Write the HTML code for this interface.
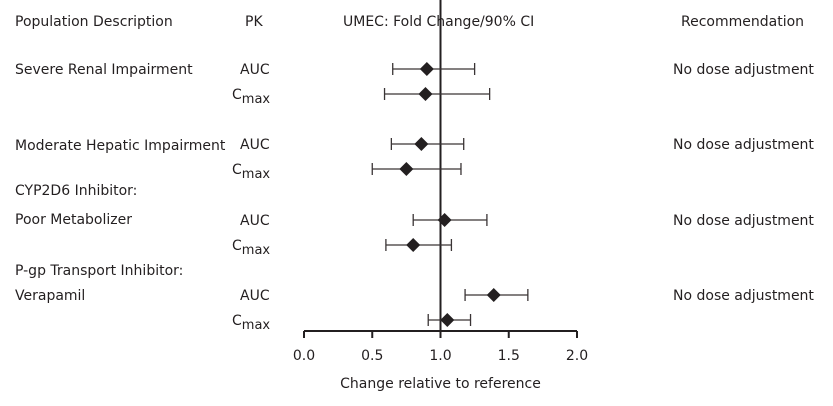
<!DOCTYPE html>
<html><head><meta charset="utf-8"><style>
body{margin:0;background:#fff;width:833px;height:401px;overflow:hidden}
svg{font-family:"DejaVu Sans","Liberation Sans",sans-serif;}
text{fill:#231f20;font-size:14px}
</style></head><body>
<svg id="c" width="833" height="401"></svg>
<script>
const labels=["Severe AUC","Severe Cmax","Moderate AUC","Moderate Cmax","Poor AUC","Poor Cmax","Verapamil AUC","Verapamil Cmax"];
const pointValues=[0.90,0.89,0.86,0.75,1.03,0.80,1.39,1.05];
const lowerCI=[0.65,0.59,0.64,0.50,0.80,0.60,1.18,0.91];
const upperCI=[1.25,1.36,1.17,1.15,1.34,1.08,1.64,1.22];
const rowY=[69,94,144,169,220,245,295,320];
const ticks=[0,0.5,1.0,1.5,2.0];
const tickLabels=["0.0","0.5","1.0","1.5","2.0"];
const NS="http://www.w3.org/2000/svg";
const svg=document.getElementById('c');
const x=v=>304+v*136.5;
function el(t,a,txt){const e=document.createElementNS(NS,t);for(const k in a)e.setAttribute(k,a[k]);if(txt!=null)e.textContent=txt;svg.appendChild(e);return e;}
// headers & labels
let e;
e=el('text',{x:15,y:26},'Population Description');
e=el('text',{x:245,y:26},'PK');
e=el('text',{x:343,y:26},'UMEC: Fold Change/90% CI');
e=el('text',{x:681,y:26},'Recommendation');
const pops=[["Severe Renal Impairment",74],["Moderate Hepatic Impairment",150],["CYP2D6 Inhibitor:",195],["Poor Metabolizer",224],["P-gp Transport Inhibitor:",275],["Verapamil",300]];
pops.forEach(p=>{const t=el('text',{x:15,y:p[1]},p[0]);});
rowY.forEach((y,i)=>{
 if(i%2==0){const t=el('text',{x:240,y:y+5},'AUC');
  const r=el('text',{x:673,y:y+5},'No dose adjustment');}
 else{const t=el('text',{x:232,y:y+5});t.innerHTML='C<tspan dy="4" font-size="13">max</tspan>';}
});
// reference line
e=el('line',{x1:x(1),y1:0,x2:x(1),y2:331,stroke:'#231f20','stroke-width':2});
// axis
e=el('line',{x1:x(0),y1:331,x2:x(2),y2:331,stroke:'#231f20','stroke-width':2});
ticks.forEach((v,i)=>{
 const l=el('line',{x1:x(v),y1:331,x2:x(v),y2:338,stroke:'#231f20','stroke-width':2});
 const t=el('text',{x:x(v),y:360,'text-anchor':'middle'},tickLabels[i]);
});
e=el('text',{x:x(1),y:388,'text-anchor':'middle'},'Change relative to reference');
// CIs & points
pointValues.forEach((v,i)=>{
 const y=rowY[i];
 const g=document.createElementNS(NS,'g');svg.appendChild(g);
 
 
 const a=x(lowerCI[i]),b=x(upperCI[i]);
 [[a,y,b,y],[a,y-6,a,y+6],[b,y-6,b,y+6]].forEach(c=>{const l=document.createElementNS(NS,'line');l.setAttribute('x1',c[0]);l.setAttribute('y1',c[1]);l.setAttribute('x2',c[2]);l.setAttribute('y2',c[3]);l.setAttribute('stroke','#3a3435');l.setAttribute('stroke-width','1.3');g.appendChild(l);});
 const px=x(v);
 const d=document.createElementNS(NS,'polygon');
 d.setAttribute('points',`${px},${y-7} ${px+7},${y} ${px},${y+7} ${px-7},${y}`);
 d.setAttribute('fill','#231f20');
 
 
 g.appendChild(d);
});
</script>
</body></html>
